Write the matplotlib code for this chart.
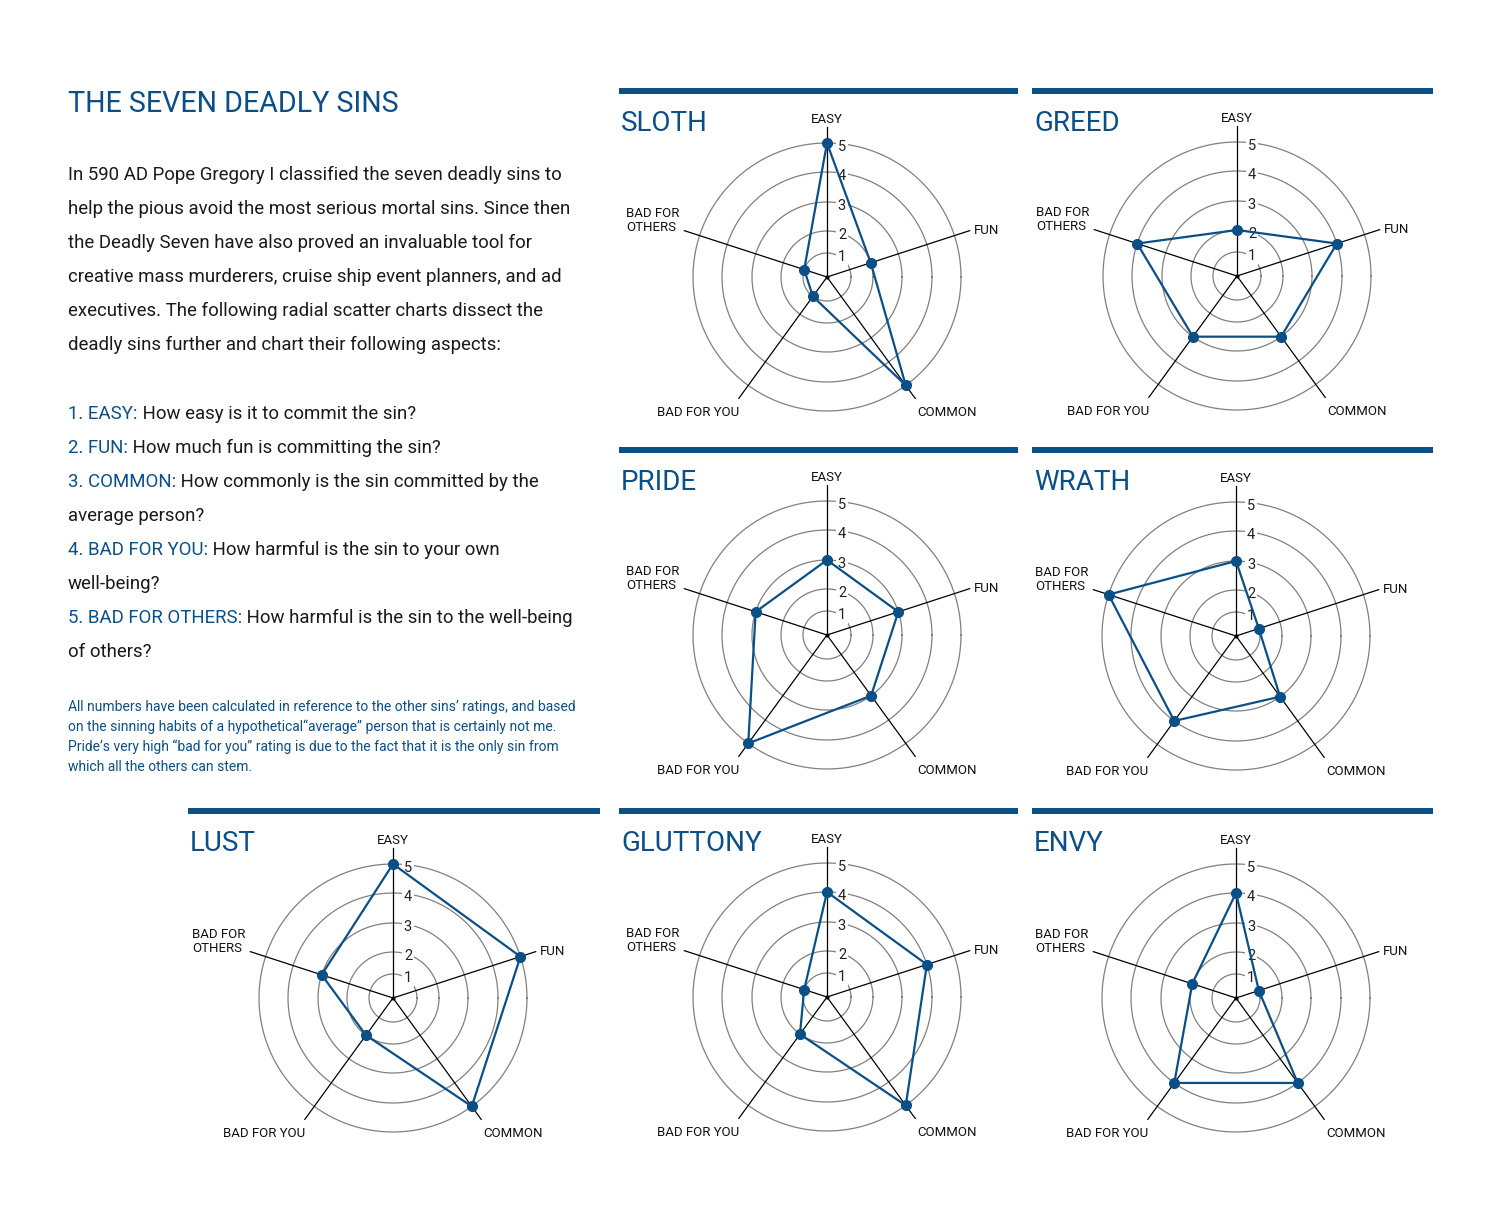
import numpy as np
import matplotlib
matplotlib.use("Agg")
from matplotlib import pyplot as plt
from matplotlib.lines import Line2D

plt.rcParams['font.family'] = ['Roboto', 'DejaVu Sans']

BLUE = '#0b4f87'
W, H = 1500, 1216

# ratings in order EASY, FUN, COMMON, BAD FOR YOU, BAD FOR OTHERS
spoke_labels = ["EASY", "FUN", "COMMON", "BAD FOR YOU", "BAD FOR\nOTHERS"]
sins = ["SLOTH", "GREED", "PRIDE", "WRATH", "LUST", "GLUTTONY", "ENVY"]
sloth = [5, 2, 5, 1, 1]
greed = [2, 4, 3, 3, 4]
pride = [3, 3, 3, 5, 3]
wrath = [3, 1, 3, 4, 5]
lust = [5, 5, 5, 2, 3]
gluttony = [4, 4, 5, 2, 1]
envy = [4, 1, 4, 4, 2]
ratings = [sloth, greed, pride, wrath, lust, gluttony, envy]
levels = [0, 1, 2, 3, 4, 5]

title = "THE SEVEN DEADLY SINS"
intro = ["In 590 AD Pope Gregory I classified the seven deadly sins to",
         "help the pious avoid the most serious mortal sins. Since then",
         "the Deadly Seven have also proved an invaluable tool for",
         "creative mass murderers, cruise ship event planners, and ad",
         "executives. The following radial scatter charts dissect the",
         "deadly sins further and chart their following aspects:"]
aspects = [("1. EASY:", " How easy is it to commit the sin?"),
           ("2. FUN:", " How much fun is committing the sin?"),
           ("3. COMMON:", " How commonly is the sin committed by the"),
           ("", "average person?"),
           ("4. BAD FOR YOU:", " How harmful is the sin to your own"),
           ("", "well-being?"),
           ("5. BAD FOR OTHERS:", " How harmful is the sin to the well-being"),
           ("", "of others?")]
note = ["All numbers have been calculated in reference to the other sins\u2019 ratings, and based",
        "on the sinning habits of a hypothetical\u201caverage\u201d person that is certainly not me.",
        "Pride\u2019s very high \u201cbad for you\u201d rating is due to the fact that it is the only sin from",
        "which all the others can stem."]

# layout in pixels: chart centre, bar start, bar end, bar y
panels = {"SLOTH": (827, 277, 619, 1018, 91),
          "GREED": (1237, 276, 1032, 1433, 91),
          "PRIDE": (827, 635, 619, 1018, 450),
          "WRATH": (1236, 636, 1032, 1433, 450),
          "LUST": (393, 998, 188, 600, 811),
          "GLUTTONY": (827, 997, 619, 1018, 811),
          "ENVY": (1236, 998, 1032, 1433, 811)}
ring_px = [0, 24, 46, 75, 105, 134]
HALF = 180
SPOKE = 150

fig = plt.figure(figsize=(W / 100, H / 100), dpi=100)
fig.patch.set_facecolor('white')


def fx(x):
    return x / W


def fy(y):
    return 1 - y / H


angles = np.pi / 2 - np.arange(5) * 2 * np.pi / 5
label_pos = [dict(ha='center', va='bottom', xytext=(0, 1)),
             dict(ha='left', va='center', xytext=(4, 0)),
             dict(ha='left', va='top', xytext=(2, -8)),
             dict(ha='right', va='top', xytext=(0, -8)),
             dict(ha='right', va='bottom', xytext=(-5, -3))]

for name, vals in zip(sins, ratings):
    cx, cy, bx0, bx1, by = panels[name]
    fig.add_artist(Line2D([fx(bx0), fx(bx1)], [fy(by), fy(by)], color=BLUE, lw=4.3,
                          solid_capstyle='butt'))
    fig.text(fx(bx0 + 2), fy(by + 40), name, color=BLUE, fontsize=20, va='baseline')

    ax = fig.add_axes([fx(cx - HALF), fy(cy + HALF), 2 * HALF / W, 2 * HALF / H], projection='polar')
    ax.set_ylim(0, HALF)
    ax.set_axis_off()
    t = np.linspace(0, 2 * np.pi, 400)
    for lv in levels[1:]:
        ax.plot(t, np.full_like(t, ring_px[lv]), color='#808080', lw=0.9, zorder=1)
        ax.annotate(str(lv), xy=(np.pi / 2, ring_px[lv]), xytext=(15, -4), textcoords='offset pixels',
                    ha='center', va='center', fontsize=10.5, color='#222222', zorder=3,
                    bbox=dict(fc='white', ec='none', pad=1.5))
    for a, lab, pos in zip(angles, spoke_labels, label_pos):
        ax.plot([a, a], [0, SPOKE], color='black', lw=0.9, zorder=2)
        ax.annotate(lab, xy=(a, SPOKE), textcoords='offset pixels', fontsize=9.5, color='#111111',
                    multialignment='left', linespacing=1.1, annotation_clip=False, **pos)
    r = np.interp(vals, levels, ring_px)
    ax.plot(np.append(angles, angles[0]), np.append(r, r[0]), color=BLUE, lw=1.6, zorder=5)
    ax.plot(angles, r, 'o', color=BLUE, ms=7, zorder=6)
    ax.plot([0], [0], 'o', color='black', ms=2, zorder=6)

fig.text(fx(68), fy(112), title, color=BLUE, fontsize=20.6, va='baseline')
for i, line in enumerate(intro):
    fig.text(fx(68), fy(180 + 34 * i), line, color='#1a1a1a', fontsize=13.4, va='baseline')

renderer = fig.canvas.get_renderer()
for i, (head, rest) in enumerate(aspects):
    y = fy(419 + 34 * i)
    x = fx(68)
    if head:
        t1 = fig.text(x, y, head, color=BLUE, fontsize=13.4, va='baseline')
        x = fx(68 + t1.get_window_extent(renderer).width)
    fig.text(x, y, rest, color='#1a1a1a', fontsize=13.4, va='baseline')

for i, line in enumerate(note):
    fig.text(fx(68), fy(711 + 20 * i), line, color=BLUE, fontsize=10, va='baseline')

fig.savefig("out.png", dpi=100, facecolor='white')
